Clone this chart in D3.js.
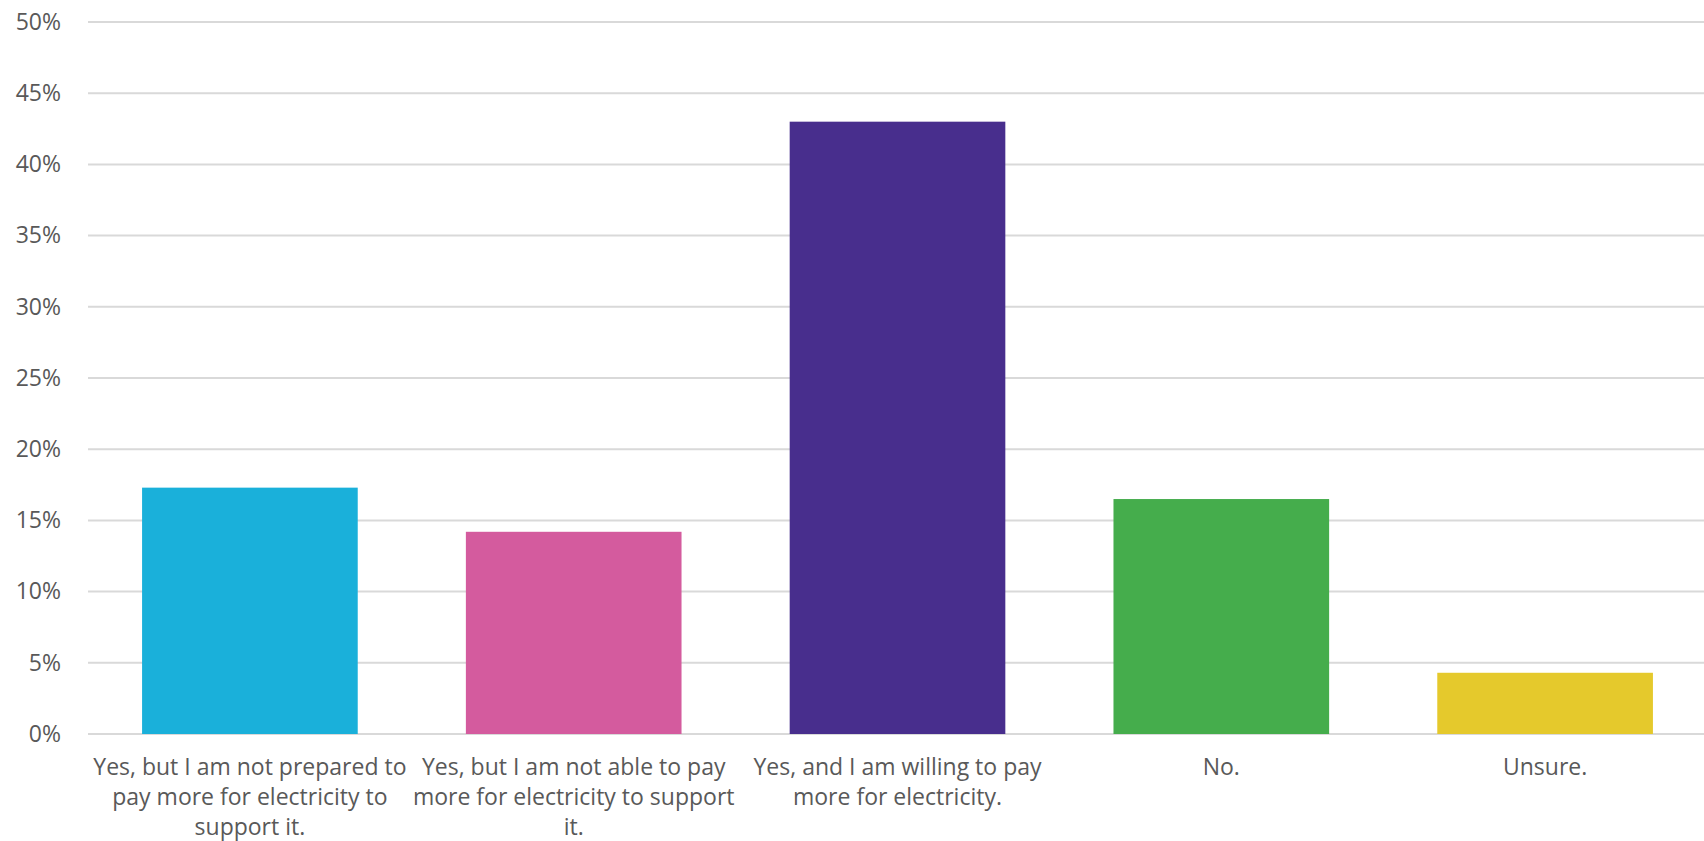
<!DOCTYPE html>
<html><head><meta charset="utf-8">
<script src="https://cdn.jsdelivr.net/npm/d3@7"></script>
<style>html,body{margin:0;padding:0;background:#fff;}svg{display:block;}</style>
</head><body>
<script>
const categories = [
  "Yes, but I am not prepared to pay more for electricity to support it.",
  "Yes, but I am not able to pay more for electricity to support it.",
  "Yes, and I am willing to pay more for electricity.",
  "No.",
  "Unsure."
];
const labelLines = [
  ["Yes, but I am not prepared to", "pay more for electricity to", "support it."],
  ["Yes, but I am not able to pay", "more for electricity to support", "it."],
  ["Yes, and I am willing to pay", "more for electricity."],
  ["No."],
  ["Unsure."]
];
const values = [17.3, 14.2, 43.0, 16.5, 4.3];
const colors = ["#1ab0da", "#d45b9e", "#482e8d", "#45ad4c", "#e5c92c"];
const yTicks = [0, 5, 10, 15, 20, 25, 30, 35, 40, 45, 50];

const W = 1704, H = 841;
const svg = d3.select("body").append("svg").attr("width", W).attr("height", H);
const x = d3.scaleBand().domain(categories).range([88, 1707]).paddingInner(0.334).paddingOuter(0.167);
const y = d3.scaleLinear().domain([0, 50]).range([734, 22]);

const font = "'Open Sans', sans-serif";
// gridlines
svg.append("g").selectAll("line").data(yTicks).join("line")
  .attr("x1", 88).attr("x2", W).attr("y1", d => y(d)).attr("y2", d => y(d))
  .attr("stroke", "#d9d9d9").attr("stroke-width", 2);

// y axis labels
const yAxis = d3.axisLeft(y).tickValues(yTicks).tickFormat(d => d + "%").tickSize(0).tickPadding(0);
const ya = svg.append("g").attr("transform", "translate(61,0)").call(yAxis);
ya.select(".domain").remove();
ya.selectAll("text").attr("font-family", font).attr("font-size", 23).attr("fill", "#595959");

// bars
svg.append("g").selectAll("rect").data(values).join("rect")
  .attr("x", (d, i) => x(categories[i]))
  .attr("width", x.bandwidth())
  .attr("y", d => y(d))
  .attr("height", d => y(0) - y(d))
  .attr("fill", (d, i) => colors[i]);

// x labels
const xl = svg.append("g").selectAll("text").data(categories).join("text")
  .attr("x", d => x(d) + x.bandwidth() / 2)
  .attr("y", 775)
  .attr("text-anchor", "middle")
  .attr("font-family", font).attr("font-size", 23).attr("fill", "#595959");
xl.each(function(d, i) {
  d3.select(this).selectAll("tspan").data(labelLines[i]).join("tspan")
    .attr("x", x(d) + x.bandwidth() / 2)
    .attr("dy", (t, j) => j === 0 ? 0 : 30)
    .text(t => t);
});
</script>
</body></html>
